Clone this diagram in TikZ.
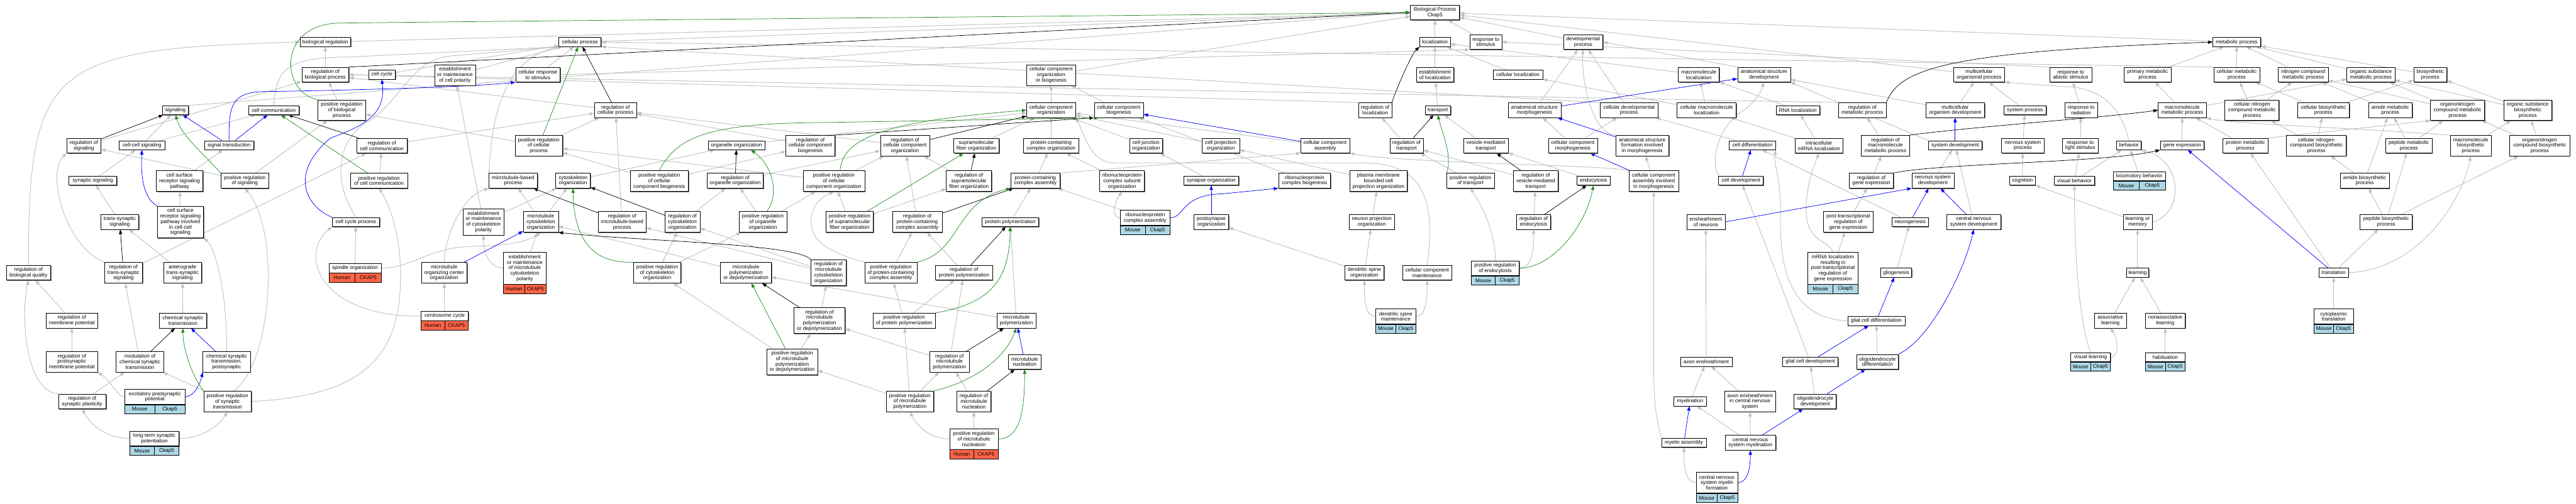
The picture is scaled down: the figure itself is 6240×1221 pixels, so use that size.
\documentclass[tikz,border=0pt]{standalone}
\usepackage{fontspec}
\setmainfont{Liberation Sans}
\usetikzlibrary{arrows.meta,shadows}
\definecolor{isagray}{HTML}{C0C0C0}
\definecolor{posgreen}{HTML}{228B22}
\definecolor{partblue}{HTML}{0000FF}
\definecolor{mouseblue}{HTML}{ADD8E6}
\definecolor{humanred}{HTML}{FF6347}
\newcommand{\termfont}{\fontsize{12.5}{13.3}\selectfont}
\pgfdeclarelayer{edges}
\pgfsetlayers{edges,main}
% species / gene strip under an annotated term
\newcommand{\genebar}[5]{%
  \node[gcell,fill=#5,minimum width=#2/2,anchor=north west] (#1sp) at (#1.south west) {#3};
  \node[gcell,fill=#5,minimum width=#2/2,anchor=north east] (#1gn) at (#1.south east) {#4};}

\begin{document}
\begin{tikzpicture}[x=1pt,y=1pt,
  term/.style={draw=black,line width=0.9pt,fill=white,align=center,inner xsep=3pt,inner ysep=1pt,
    font=\termfont,drop shadow={shadow xshift=1.8pt,shadow yshift=-1.8pt,fill=black!55,opacity=1}},
  l1/.style={term,minimum height=22},
  l2/.style={term,minimum height=36},
  l3/.style={term,minimum height=50},
  l4/.style={term,minimum height=63},
  l5/.style={term,minimum height=77},
  gcell/.style={draw=black,line width=0.9pt,inner sep=1pt,font=\termfont,minimum height=22},
  edge/.style={-{Triangle[length=11pt,width=8pt]},line width=1.1pt},
  isaedge/.style={edge,isagray,line width=1.4pt},
  partedge/.style={edge,partblue},
  regedge/.style={edge,black},
  posedge/.style={edge,posgreen}]

\useasboundingbox (0,0) rectangle (6240,-1221);

% root
\node[l2,minimum width=119] (biop) at (3476,-30) {Biological Process\\Ckap5};

% level 1
\node[l1,minimum width=123] (bioreg) at (788,-102) {biological regulation};
\node[l1,minimum width=102] (cellproc) at (1405,-102) {cellular process};
\node[l1,minimum width=74] (loc) at (3476,-102) {localization};
\node[l2,minimum width=78] (respstim) at (3599,-102) {response to\\stimulus};
\node[l2,minimum width=95] (devproc) at (3835,-102) {developmental\\process};
\node[l1,minimum width=116] (metab) at (5418,-102) {metabolic process};

% level 2
\node[l2,minimum width=114] (regbp) at (788,-181) {regulation of\\biological process};
\node[l1,minimum width=65] (cellcyc) at (925,-181) {cell cycle};
\node[l3,minimum width=99] (emcellpol) at (1102,-182) {establishment\\or maintenance\\of cell polarity};
\node[l2,minimum width=108] (cellresp) at (1303,-181) {cellular response\\to stimulus};
\node[l3,minimum width=118] (ccob) at (2546,-182) {cellular component\\organization\\or biogenesis};
\node[l2,minimum width=91] (estloc) at (3476,-181) {establishment\\of localization};
\node[l1,minimum width=120] (cellloc) at (3677,-181) {cellular localization};
\node[l2,minimum width=99] (macroloc) at (4115,-181) {macromolecule\\localization};
\node[l2,minimum width=128] (asdev) at (4273,-181) {anatomical structure\\development};
\node[l2,minimum width=123] (mcop) at (4794,-181) {multicellular\\organismal process};
\node[l2,minimum width=102] (respabio) at (5016,-181) {response to\\abiotic stimulus};
\node[l2,minimum width=114] (primmet) at (5202,-181) {primary metabolic\\process};
\node[l2,minimum width=111] (cellmet) at (5418,-181) {cellular metabolic\\process};
\node[l2,minimum width=121] (nitmet) at (5579,-181) {nitrogen compound\\metabolic process};
\node[l2,minimum width=116] (orgmet) at (5743,-181) {organic substance\\metabolic process};
\node[l2,minimum width=80] (biosyn) at (5887,-181) {biosynthetic\\process};

% level 3
\node[l1,minimum width=62] (signaling) at (425,-267) {signaling};
\node[l1,minimum width=123] (cellcomm) at (663,-267) {cell communication};
\node[l3,minimum width=115] (prbp) at (828,-267) {positive regulation\\of biological\\process};
\node[l2,minimum width=102] (regcp) at (1491,-267) {regulation of\\cellular process};
\node[l2,minimum width=118] (cco) at (2546,-267) {cellular component\\organization};
\node[l2,minimum width=119] (ccbio) at (2710,-267) {cellular component\\biogenesis};
\node[l2,minimum width=81] (regloc) at (3331,-267) {regulation of\\localization};
\node[l1,minimum width=61] (transport) at (3483,-267) {transport};
\node[l2,minimum width=128] (asmorph) at (3717,-267) {anatomical structure\\morphogenesis};
\node[l2,minimum width=139] (celldevproc) at (3946,-267) {cellular developmental\\process};
\node[l2,minimum width=143] (cmacroloc) at (4134,-267) {cellular macromolecule\\localization};
\node[l1,minimum width=106] (rnaloc) at (4355,-267) {RNA localization};
\node[l2,minimum width=116] (regmet) at (4511,-267) {regulation of\\metabolic process};
\node[l2,minimum width=142] (mcod) at (4736,-267) {multicellular\\organism development};
\node[l1,minimum width=103] (sysproc) at (4905,-267) {system process};
\node[l2,minimum width=79] (resprad) at (5041,-267) {response to\\radiation};
\node[l2,minimum width=116] (macromet) at (5286,-267) {macromolecule\\metabolic process};
\node[l3,minimum width=131] (cnmet) at (5455,-267) {cellular nitrogen\\compound metabolic\\process};
\node[l2,minimum width=126] (cbiosyn) at (5628,-267) {cellular biosynthetic\\process};
\node[l2,minimum width=106] (amidemet) at (5790,-267) {amide metabolic\\process};
\node[l3,minimum width=131] (onmet) at (5953,-267) {organonitrogen\\compound metabolic\\process};
\node[l3,minimum width=116] (osbiosyn) at (6123,-267) {organic substance\\biosynthetic\\process};

% level 4
\node[l2,minimum width=82] (regsig) at (203,-353) {regulation of\\signaling};
\node[l1,minimum width=110] (ccsig) at (344,-352) {cell-cell signaling};
\node[l1,minimum width=119] (sigtrans) at (555,-352) {signal transduction};
\node[l2,minimum width=123] (regcc) at (925,-353) {regulation of\\cell communication};
\node[l3,minimum width=115] (prcp) at (1305,-353) {positive regulation\\of cellular\\process};
\node[l1,minimum width=137] (orgorg) at (1784,-352) {organelle organization};
\node[l3,minimum width=119] (regccb) at (1963,-353) {regulation of\\cellular component\\biogenesis};
\node[l3,minimum width=119] (regcco) at (2192,-353) {regulation of\\cellular component\\organization};
\node[l2,minimum width=110] (sfo) at (2365,-353) {supramolecular\\fiber organization};
\node[l2,minimum width=133] (pcco) at (2546,-353) {protein-containing\\complex organization};
\node[l2,minimum width=80] (cjo) at (2776,-353) {cell junction\\organization};
\node[l2,minimum width=91] (cpo) at (2957,-353) {cell projection\\organization};
\node[l2,minimum width=118] (ccassem) at (3210,-353) {cellular component\\assembly};
\node[l2,minimum width=81] (regtrans) at (3407,-353) {regulation of\\transport};
\node[l2,minimum width=108] (vmt) at (3599,-353) {vesicle-mediated\\transport};
\node[l2,minimum width=119] (ccmorph) at (3810,-353) {cellular component\\morphogenesis};
\node[l3,minimum width=129] (asfim) at (3978,-353) {anatomical structure\\formation involved\\in morphogenesis};
\node[l1,minimum width=112] (celldiff) at (4245,-352) {cell differentiation};
\node[l2,minimum width=116] (imrnaloc) at (4406,-353) {intracellular\\mRNA localization};
\node[l3,minimum width=116] (regmmp) at (4567,-353) {regulation of\\macromolecule\\metabolic process};
\node[l1,minimum width=130] (sysdev) at (4736,-352) {system development};
\node[l2,minimum width=103] (nsproc) at (4900,-353) {nervous system\\process};
\node[l2,minimum width=87] (resplight) at (5039,-353) {response to\\light stimulus};
\node[l1,minimum width=59] (behavior) at (5157,-352) {behavior};
\node[l1,minimum width=106] (geneexp) at (5286,-352) {gene expression};
\node[l2,minimum width=109] (protmet) at (5439,-353) {protein metabolic\\process};
\node[l3,minimum width=145] (cnbiosyn) at (5611,-353) {cellular nitrogen\\compound biosynthetic\\process};
\node[l2,minimum width=113] (pepmet) at (5835,-353) {peptide metabolic\\process};
\node[l3,minimum width=99] (mbiosyn) at (5985,-353) {macromolecule\\biosynthetic\\process};
\node[l3,minimum width=145] (onbiosyn) at (6152,-353) {organonitrogen\\compound biosynthetic\\process};

% level 5
\node[l1,minimum width=116] (synsig) at (225,-438) {synaptic signaling};
\node[l3,minimum width=113] (csrsp) at (435,-439) {cell surface\\receptor signaling\\pathway};
\node[l2,minimum width=115] (prsig) at (593,-438) {positive regulation\\of signaling};
\node[l2,minimum width=138] (prcc) at (918,-438) {positive regulation\\of cell communication};
\node[l2,minimum width=117] (mtbp) at (1243,-438) {microtubule-based\\process};
\node[l2,minimum width=84] (cytorg) at (1388,-438) {cytoskeleton\\organization};
\node[l3,minimum width=141] (prccb) at (1597,-439) {positive regulation\\of cellular\\component biogenesis};
\node[l2,minimum width=136] (regoo) at (1781,-438) {regulation of\\organelle organization};
\node[l3,minimum width=149] (prcco) at (2020,-439) {positive regulation\\of cellular\\component organization};
\node[l3,minimum width=110] (regsfo) at (2347,-439) {regulation of\\supramolecular\\fiber organization};
\node[l2,minimum width=119] (pcca) at (2508,-438) {protein-containing\\complex assembly};
\node[l3,minimum width=108] (rnpso) at (2718,-439) {ribonucleoprotein\\complex subunit\\organization};
\node[l1,minimum width=133] (synorg) at (2934,-438) {synapse organization};
\node[l2,minimum width=126] (rnpbio) at (3160,-438) {ribonucleoprotein\\complex biogenesis};
\node[l3,minimum width=140] (pmbcpo) at (3339,-439) {plasma membrane\\bounded cell\\projection organization};
\node[l2,minimum width=115] (prtrans) at (3562,-438) {positive regulation\\of transport};
\node[l3,minimum width=109] (regvmt) at (3720,-439) {regulation of\\vesicle-mediated\\transport};
\node[l1,minimum width=80] (endo) at (3860,-438) {endocytosis};
\node[l3,minimum width=120] (ccaim) at (4006,-439) {cellular component\\assembly involved\\in morphogenesis};
\node[l1,minimum width=108] (celldev) at (4217,-438) {cell development};
\node[l2,minimum width=106] (reggeneexp) at (4533,-438) {regulation of\\gene expression};
\node[l2,minimum width=102] (nsdev) at (4682,-438) {nervous system\\development};
\node[l1,minimum width=62] (cognition) at (4899,-438) {cognition};
\node[l1,minimum width=97] (visbeh) at (5025,-438) {visual behavior};
\node[l1,minimum width=126] (locobeh) at (5182,-427) {locomotory behavior};
\node[l2,minimum width=119] (amidebio) at (5728,-438) {amide biosynthetic\\process};

% level 6
\node[l2,minimum width=92] (tssig) at (290,-538) {trans-synaptic\\signaling};
\node[l5,minimum width=112] (csrspcc) at (437,-538) {cell surface\\receptor signaling\\pathway involved\\in cell-cell\\signaling};
\node[l1,minimum width=115] (ccproc) at (862,-538) {cell cycle process};
\node[l4,minimum width=99] (emcytpol) at (1171,-538) {establishment\\or maintenance\\of cytoskeleton\\polarity};
\node[l3,minimum width=85] (mtco) at (1310,-538) {microtubule\\cytoskeleton\\organization};
\node[l3,minimum width=116] (regmtbp) at (1507,-538) {regulation of\\microtubule-based\\process};
\node[l3,minimum width=85] (regco) at (1653,-538) {regulation of\\cytoskeleton\\organization};
\node[l3,minimum width=115] (proo) at (1848,-538) {positive regulation\\of organelle\\organization};
\node[l3,minimum width=115] (prsfo) at (2058,-538) {positive regulation\\of supramolecular\\fiber organization};
\node[l3,minimum width=120] (regpcca) at (2222,-538) {regulation of\\protein-containing\\complex assembly};
\node[l1,minimum width=138] (protpoly) at (2447,-538) {protein polymerization};
\node[l2,minimum width=120] (rnpca) at (2774,-528) {ribonucleoprotein\\complex assembly};
\node[l2,minimum width=84] (postsyn) at (2934,-538) {postsynapse\\organization};
\node[l2,minimum width=109] (npo) at (3323,-538) {neuron projection\\organization};
\node[l2,minimum width=82] (regendo) at (3715,-538) {regulation of\\endocytosis};
\node[l2,minimum width=93] (ensheath) at (4132,-538) {ensheathment\\of neurons};
\node[l3,minimum width=120] (ptrge) at (4477,-538) {post-transcriptional\\regulation of\\gene expression};
\node[l1,minimum width=87] (neurogen) at (4627,-538) {neurogenesis};
\node[l2,minimum width=131] (cnsdev) at (4781,-538) {central nervous\\system development};
\node[l2,minimum width=70] (learnmem) at (5178,-538) {learning or\\memory};
\node[l2,minimum width=127] (pepbio) at (5780,-538) {peptide biosynthetic\\process};

% level 7
\node[l2,minimum width=107] (regbq) at (69,-661) {regulation of\\biological quality};
\node[l3,minimum width=92] (regtss) at (299,-661) {regulation of\\trans-synaptic\\signaling};
\node[l3,minimum width=92] (antero) at (442,-661) {anterograde\\trans-synaptic\\signaling};
\node[l1,minimum width=127] (spindle) at (860,-650) {spindle organization};
\node[l3,minimum width=110] (mtoc) at (1076,-661) {microtubule\\organizing center\\organization};
\node[l5,minimum width=103] (emmtpol) at (1271,-650) {establishment\\or maintenance\\of microtubule\\cytoskeleton\\polarity};
\node[l3,minimum width=115] (prco) at (1592,-661) {positive regulation\\of cytoskeleton\\organization};
\node[l3,minimum width=123] (mtpd) at (1807,-661) {microtubule\\polymerization\\or depolymerization};
\node[l4,minimum width=85] (regmtco) at (2007,-661) {regulation of\\microtubule\\cytoskeleton\\organization};
\node[l3,minimum width=127] (prpcca) at (2158,-661) {positive regulation\\of protein-containing\\complex assembly};
\node[l2,minimum width=138] (regpp) at (2335,-661) {regulation of\\protein polymerization};
\node[l2,minimum width=95] (dso) at (3305,-661) {dendritic spine\\organization};
\node[l2,minimum width=119] (ccmaint) at (3457,-661) {cellular component\\maintenance};
\node[l2,minimum width=116] (prendo) at (3622,-650) {positive regulation\\of endocytosis};
\node[l5,minimum width=121] (mrnaloc) at (4440,-650) {mRNA localization\\resulting in\\post-transcriptional\\regulation of\\gene expression};
\node[l1,minimum width=75] (gliogen) at (4593,-661) {gliogenesis};
\node[l1,minimum width=54] (learning) at (5178,-661) {learning};
\node[l1,minimum width=71] (translation) at (5653,-661) {translation};

% level 8
\node[l2,minimum width=125] (regmp) at (174,-777) {regulation of\\membrane potential};
\node[l2,minimum width=115] (cst) at (443,-777) {chemical synaptic\\transmission};
\node[l1,minimum width=114] (ccycle) at (1077,-766) {centrosome cycle};
\node[l4,minimum width=124] (regmtpd) at (1985,-777) {regulation of\\microtubule\\polymerization\\or depolymerization};
\node[l2,minimum width=151] (prpp) at (2190,-777) {positive regulation\\of protein polymerization};
\node[l2,minimum width=95] (mtpoly) at (2462,-777) {microtubule\\polymerization};
\node[l2,minimum width=97] (dsm) at (3381,-767) {dendritic spine\\maintenance};
\node[l1,minimum width=139] (glcdiff) at (4545,-778) {glial cell differentiation};
\node[l2,minimum width=77] (asslearn) at (5112,-777) {associative\\learning};
\node[l2,minimum width=97] (nonasslearn) at (5245,-777) {nonassociative\\learning};
\node[l2,minimum width=95] (cyttrans) at (5653,-767) {cytoplasmic\\translation};

% level 9
\node[l3,minimum width=125] (regpmp) at (174,-877) {regulation of\\postsynaptic\\membrane potential};
\node[l3,minimum width=115] (modcst) at (339,-877) {modulation of\\chemical synaptic\\transmission};
\node[l3,minimum width=115] (cstpost) at (549,-877) {chemical synaptic\\transmission,\\postsynaptic};
\node[l4,minimum width=123] (prmtpd) at (1919,-877) {positive regulation\\of microtubule\\polymerization\\or depolymerization};
\node[l3,minimum width=95] (regmtp) at (2300,-877) {regulation of\\microtubule\\polymerization};
\node[l2,minimum width=78] (mtnuc) at (2482,-877) {microtubule\\nucleation};
\node[l1,minimum width=125] (axonens) at (4133,-877) {axon ensheathment};
\node[l1,minimum width=135] (glcdev) at (4385,-877) {glial cell development};
\node[l2,minimum width=101] (oligodiff) at (4548,-877) {oligodendrocyte\\differentiation};
\node[l1,minimum width=96] (vislearn) at (5064,-866) {visual learning};
\node[l1,minimum width=95] (habit) at (5245,-866) {habituation};

% level 10
\node[l2,minimum width=115] (regsp) at (199,-973) {regulation of\\synaptic plasticity};
\node[l2,minimum width=146] (epsp) at (375,-962) {excitatory postsynaptic\\potential};
\node[l3,minimum width=115] (prst) at (551,-973) {positive regulation\\of synaptic\\transmission};
\node[l3,minimum width=115] (prmtp) at (2204,-973) {positive regulation\\of microtubule\\polymerization};
\node[l3,minimum width=82] (regmtn) at (2359,-973) {regulation of\\microtubule\\nucleation};
\node[l1,minimum width=78] (myelination) at (4094,-973) {myelination};
\node[l3,minimum width=124] (aecns) at (4239,-973) {axon ensheathment\\in central nervous\\system};
\node[l2,minimum width=102] (oligodev) at (4397,-973) {oligodendrocyte\\development};

% level 11 and 12
\node[l2,minimum width=119] (ltp) at (374,-1063) {long-term synaptic\\potentiation};
\node[l3,minimum width=117] (prmtn) at (2359,-1064) {positive regulation\\of microtubule\\nucleation};
\node[l1,minimum width=108] (myelasm) at (4079,-1073) {myelin assembly};
\node[l2,minimum width=123] (cnsmyel) at (4240,-1073) {central nervous\\system myelination};
\node[l3,minimum width=100] (cnsmf) at (4159,-1170) {central nervous\\system myelin\\formation};

% species and gene strips
\genebar{spindle}{127}{Human}{CKAP5}{humanred}
\genebar{ccycle}{114}{Human}{CKAP5}{humanred}
\genebar{emmtpol}{103}{Human}{CKAP5}{humanred}
\genebar{prmtn}{117}{Human}{CKAP5}{humanred}
\genebar{epsp}{146}{Mouse}{Ckap5}{mouseblue}
\genebar{ltp}{119}{Mouse}{Ckap5}{mouseblue}
\genebar{rnpca}{120}{Mouse}{Ckap5}{mouseblue}
\genebar{prendo}{116}{Mouse}{Ckap5}{mouseblue}
\genebar{dsm}{97}{Mouse}{Ckap5}{mouseblue}
\genebar{cnsmf}{100}{Mouse}{Ckap5}{mouseblue}
\genebar{mrnaloc}{121}{Mouse}{Ckap5}{mouseblue}
\genebar{locobeh}{126}{Mouse}{Ckap5}{mouseblue}
\genebar{vislearn}{96}{Mouse}{Ckap5}{mouseblue}
\genebar{habit}{95}{Mouse}{Ckap5}{mouseblue}
\genebar{cyttrans}{95}{Mouse}{Ckap5}{mouseblue}

\begin{pgfonlayer}{edges}
% is_a
\draw[isaedge] (bioreg) -- (biop);
\draw[isaedge] (cellproc) -- (biop);
\draw[isaedge] (signaling.north east) -- (biop.west);
\draw[isaedge] (ccob) -- (biop);
\draw[isaedge] (loc) -- (biop);
\draw[isaedge] (respstim) -- (biop);
\draw[isaedge] (devproc) -- (biop);
\draw[isaedge] (mcop) -- (biop);
\draw[isaedge] (metab) -- (biop);
\draw[isaedge] (regbp) -- (bioreg);
\draw[isaedge] (regbq.north) .. controls (69,-160) and (120,-118) .. (bioreg.west);
\draw[isaedge] (regsig) -- (regbp);
\draw[isaedge] (prbp) -- (regbp);
\draw[isaedge] (cellcyc) -- (cellproc);
\draw[isaedge] (emcellpol) -- (cellproc);
\draw[isaedge] (cellresp) -- (cellproc);
\draw[isaedge] (cellresp.east) -- (respstim.south west);
\draw[isaedge] (regcp) -- (regbp);
\draw[isaedge] (prcp) -- (regcp);
\draw[isaedge] (prcp) -- (prbp);
\draw[isaedge] (mtbp.north west) .. controls (1190,-330) and (1200,-150) .. (cellproc.south west);
\draw[isaedge] (cellcomm.north) .. controls (670,-160) and (700,-140) .. (850,-138) -- (cellproc.south west);
\draw[isaedge] (ccsig) -- (signaling);
\draw[isaedge] (ccsig) -- (cellcomm);
\draw[isaedge] (synsig) -- (ccsig);
\draw[isaedge] (csrsp) -- (sigtrans);
\draw[isaedge] (csrspcc) -- (csrsp);
\draw[isaedge] (tssig) -- (synsig);
\draw[isaedge] (regtss.north west) .. controls (160,-600) and (110,-420) .. (regsig.south west);
\draw[isaedge] (regtss) -- (regcc);
\draw[isaedge] (antero) -- (tssig);
\draw[isaedge] (cst) -- (antero);
\draw[isaedge] (modcst) -- (regtss);
\draw[isaedge] (cstpost.north) .. controls (550,-700) and (520,-600) .. (csrspcc.south east);
\draw[isaedge] (prst) -- (modcst);
\draw[isaedge] (prst.60) .. controls (660,-880) and (680,-560) .. (prsig.south);
\draw[isaedge] (prst.east) .. controls (900,-960) and (975,-850) .. (970,-650) .. controls (968,-560) and (940,-490) .. (prcc.south);
\draw[isaedge] (epsp.west) .. controls (285,-962) and (270,-925) .. (regpmp.south east);
\draw[isaedge] (regpmp) -- (regmp);
\draw[isaedge] (regmp) -- (regbq);
\draw[isaedge] (regsp.north west) .. controls (60,-950) and (50,-760) .. (regbq.south);
\draw[isaedge] (regsp) -- (modcst);
\draw[isaedge] (ltp.west) .. controls (270,-1063) and (225,-1040) .. (regsp.south);
\draw[isaedge] (ltp.east) .. controls (480,-1063) and (525,-1040) .. (prst.south);
\draw[isaedge] (prsig) -- (regsig);
\draw[isaedge] (prsig) -- (prbp);
\draw[isaedge] (prcc) -- (regcc);
\draw[isaedge] (regcc) -- (regcp);
\draw[isaedge] (ccproc.north) .. controls (800,-430) and (820,-330) .. (900,-290) .. controls (980,-230) and (1000,-140) .. (1100,-135) -- (cellproc.south west);
\draw[isaedge] (spindle) -- (ccproc);
\draw[isaedge] (spindle.east) .. controls (1000,-650) and (1040,-598) .. (1150,-597) .. controls (1230,-596) and (1280,-585) .. (mtco.south);
\draw[isaedge] (ccycle.west) .. controls (780,-770) and (720,-620) .. (ccproc.south west);
\draw[isaedge] (ccycle) -- (mtoc);
\draw[isaedge] (mtoc.north) .. controls (1076,-590) and (1110,-480) .. (mtbp.south west);
\draw[isaedge] (cytorg) -- (orgorg);
\draw[isaedge] (emcytpol) -- (emcellpol);
\draw[isaedge] (emcytpol) -- (cytorg);
\draw[isaedge] (mtco) -- (mtbp);
\draw[isaedge] (mtco) -- (cytorg);
\draw[isaedge] (emmtpol) -- (mtco);
\draw[isaedge] (emmtpol.west) .. controls (1190,-650) and (1171,-620) .. (emcytpol.south);
\draw[isaedge] (regmtbp) -- (regcp);
\draw[isaedge] (regco) -- (regoo);
\draw[isaedge] (prco) -- (regco);
\draw[isaedge] (prco) -- (proo);
\draw[isaedge] (regmtco) -- (regco);
\draw[isaedge] (regmtco) -- (regmtbp);
\draw[isaedge] (mtpd) -- (mtco);
\draw[isaedge] (regmtpd) -- (regmtco);
\draw[isaedge] (prmtpd) -- (regmtpd);
\draw[isaedge] (prmtpd) -- (prco);
\draw[isaedge] (orgorg) -- (cco);
\draw[isaedge] (regoo) -- (regcco);
\draw[isaedge] (proo) -- (regoo);
\draw[isaedge] (proo) -- (prcco);
\draw[isaedge] (regccb) -- (regcp);
\draw[isaedge] (prccb) -- (regccb);
\draw[isaedge] (prccb) -- (prcp);
\draw[isaedge] (regcco) -- (regcp);
\draw[isaedge] (prcco) -- (regcco);
\draw[isaedge] (prcco) -- (prcp);
\draw[isaedge] (prsfo) -- (prcco);
\draw[isaedge] (prsfo) -- (regsfo);
\draw[isaedge] (regsfo) -- (regcco);
\draw[isaedge] (sfo) -- (cco);
\draw[isaedge] (cco) -- (ccob);
\draw[isaedge] (ccbio) -- (ccob);
\draw[isaedge] (pcco) -- (cco);
\draw[isaedge] (pcca) -- (pcco);
\draw[isaedge] (pcca.north east) -- (ccassem.south west);
\draw[isaedge] (regpcca) -- (regcco);
\draw[isaedge] (prpcca) -- (regpcca);
\draw[isaedge] (prpcca.north west) .. controls (2000,-610) and (1960,-580) .. (1965,-530) .. controls (1968,-500) and (1985,-480) .. (prcco.south);
\draw[isaedge] (protpoly) -- (pcca);
\draw[isaedge] (regpp) -- (regpcca);
\draw[isaedge] (prpp) -- (regpp);
\draw[isaedge] (prpp) -- (prpcca);
\draw[isaedge] (mtpoly) -- (protpoly);
\draw[isaedge] (mtpoly) -- (mtpd);
\draw[isaedge] (regmtp) -- (regpp);
\draw[isaedge] (regmtp) -- (regmtpd);
\draw[isaedge] (prmtp) -- (regmtp);
\draw[isaedge] (prmtp) -- (prpp);
\draw[isaedge] (prmtp) -- (prmtpd);
\draw[isaedge] (regmtn) -- (regmtp);
\draw[isaedge] (prmtn) -- (regmtn);
\draw[isaedge] (prmtn.west) .. controls (2260,-1064) and (2225,-1040) .. (prmtp.south);
\draw[isaedge] (ccassem) -- (cco);
\draw[isaedge] (cjo) -- (cco);
\draw[isaedge] (cpo) -- (cco);
\draw[isaedge] (rnpso) -- (pcco);
\draw[isaedge] (rnpca.west) .. controls (2690,-528) and (2700,-490) .. (rnpso.south);
\draw[isaedge] (rnpca) -- (pcca);
\draw[isaedge] (rnpbio) -- (ccbio);
\draw[isaedge] (synorg) -- (cjo);
\draw[isaedge] (pmbcpo) -- (cpo);
\draw[isaedge] (npo) -- (pmbcpo);
\draw[isaedge] (dso) -- (npo);
\draw[isaedge] (dso) -- (postsyn);
\draw[isaedge] (dsm.west) .. controls (3310,-767) and (3305,-740) .. (dso.south);
\draw[isaedge] (dsm.east) .. controls (3450,-767) and (3457,-740) .. (ccmaint.south);
\draw[isaedge] (ccmaint.north) .. controls (3480,-470) and (3440,-395) .. (3300,-395) -- (2700,-395) .. controls (2640,-395) and (2625,-320) .. (cco.south east);
\draw[isaedge] (estloc) -- (loc);
\draw[isaedge] (transport) -- (estloc);
\draw[isaedge] (cellloc) -- (loc);
\draw[isaedge] (macroloc) -- (loc);
\draw[isaedge] (cmacroloc) -- (macroloc);
\draw[isaedge] (cmacroloc) -- (cellloc);
\draw[isaedge] (rnaloc) -- (macroloc);
\draw[isaedge] (imrnaloc) -- (rnaloc);
\draw[isaedge] (imrnaloc) -- (cmacroloc);
\draw[isaedge] (mrnaloc.north) .. controls (4430,-580) and (4372,-590) .. (4375,-500) .. controls (4378,-440) and (4395,-400) .. (imrnaloc.south);
\draw[isaedge] (mrnaloc) -- (ptrge);
\draw[isaedge] (regloc.north west) -- (regbp.east);
\draw[isaedge] (regtrans) -- (regloc);
\draw[isaedge] (prtrans) -- (regtrans);
\draw[isaedge] (vmt) -- (transport);
\draw[isaedge] (regvmt) -- (regtrans);
\draw[isaedge] (endo) -- (vmt);
\draw[isaedge] (regendo) -- (regvmt);
\draw[isaedge] (prendo.east) .. controls (3712,-650) and (3716,-600) .. (regendo.south);
\draw[isaedge] (prendo.north) .. controls (3622,-560) and (3590,-500) .. (prtrans.south);
\draw[isaedge] (asmorph) -- (devproc);
\draw[isaedge] (celldevproc) -- (devproc);
\draw[isaedge] (celldevproc.north west) -- (cellproc.south east);
\draw[isaedge] (ccmorph) -- (asmorph);
\draw[isaedge] (ccmorph) -- (celldevproc);
\draw[isaedge] (asfim.north west) .. controls (3850,-320) and (3830,-180) .. (devproc.south);
\draw[isaedge] (ccaim) -- (asfim);
\draw[isaedge] (ccaim.north west) .. controls (3900,-400) and (3400,-396) .. (ccassem.south east);
\draw[isaedge] (myelasm.north west) .. controls (4010,-1010) and (4006,-960) .. (4006,-900) -- (ccaim.south);
\draw[isaedge] (cnsmf.west) .. controls (4090,-1170) and (4079,-1150) .. (myelasm.south);
\draw[isaedge] (myelination) -- (axonens);
\draw[isaedge] (cnsmyel) -- (myelination);
\draw[isaedge] (cnsmyel) -- (aecns);
\draw[isaedge] (aecns) -- (axonens);
\draw[isaedge] (axonens) -- (ensheath);
\draw[isaedge] (celldiff) -- (celldevproc);
\draw[isaedge] (celldev.north west) .. controls (4140,-380) and (4170,-300) .. (4220,-270) .. controls (4250,-250) and (4265,-225) .. (asdev.south);
\draw[isaedge] (glcdev) -- (celldev);
\draw[isaedge] (glcdiff.west) .. controls (4330,-770) and (4310,-640) .. (4313,-520) .. controls (4315,-430) and (4295,-400) .. (celldiff.south east);
\draw[isaedge] (gliogen) -- (neurogen);
\draw[isaedge] (neurogen) -- (celldiff);
\draw[isaedge] (oligodiff) -- (glcdiff);
\draw[isaedge] (oligodev) -- (glcdev);
\draw[isaedge] (nsdev) -- (sysdev);
\draw[isaedge] (cnsdev) -- (sysdev);
\draw[isaedge] (sysdev.north west) -- (asdev.south east);
\draw[isaedge] (mcod) -- (mcop);
\draw[isaedge] (mcod) -- (asdev);
\draw[isaedge] (asdev.north west) -- (devproc.east);
\draw[isaedge] (sysproc) -- (mcop);
\draw[isaedge] (nsproc) -- (sysproc);
\draw[isaedge] (cognition) -- (nsproc);
\draw[isaedge] (behavior.north) .. controls (5140,-270) and (5100,-212) .. (5000,-210) -- (mcop.south east);
\draw[isaedge] (visbeh) -- (behavior);
\draw[isaedge] (visbeh) -- (resplight);
\draw[isaedge] (locobeh) -- (behavior);
\draw[isaedge] (learnmem) -- (cognition);
\draw[isaedge] (learnmem.east) .. controls (5290,-520) and (5290,-390) .. (behavior.south east);
\draw[isaedge] (learning) -- (learnmem);
\draw[isaedge] (asslearn) -- (learning);
\draw[isaedge] (nonasslearn) -- (learning);
\draw[isaedge] (vislearn.east) .. controls (5135,-866) and (5130,-820) .. (asslearn.south);
\draw[isaedge] (vislearn.north) .. controls (5040,-790) and (5025,-650) .. (visbeh.south);
\draw[isaedge] (habit) -- (nonasslearn);
\draw[isaedge] (respabio.north west) -- (respstim.east);
\draw[isaedge] (resprad) -- (respabio);
\draw[isaedge] (resplight) -- (resprad);
\draw[isaedge] (regmet.north west) -- (regbp.east);
\draw[isaedge] (regmmp) -- (regmet);
\draw[isaedge] (reggeneexp) -- (regmmp);
\draw[isaedge] (ptrge) -- (reggeneexp);
\draw[isaedge] (primmet) -- (metab);
\draw[isaedge] (cellmet) -- (metab);
\draw[isaedge] (cellmet.north west) -- (cellproc.east);
\draw[isaedge] (nitmet) -- (metab);
\draw[isaedge] (orgmet) -- (metab);
\draw[isaedge] (biosyn) -- (metab);
\draw[isaedge] (macromet) -- (primmet);
\draw[isaedge] (macromet) -- (orgmet);
\draw[isaedge] (cnmet) -- (cellmet);
\draw[isaedge] (cnmet) -- (nitmet);
\draw[isaedge] (cbiosyn) -- (cellmet);
\draw[isaedge] (cbiosyn) -- (biosyn);
\draw[isaedge] (geneexp) -- (macromet);
\draw[isaedge] (protmet) -- (macromet);
\draw[isaedge] (protmet.north east) -- (onmet.south west);
\draw[isaedge] (cnbiosyn) -- (cbiosyn);
\draw[isaedge] (cnbiosyn) -- (cnmet);
\draw[isaedge] (amidebio) -- (cnbiosyn);
\draw[isaedge] (amidebio) -- (amidemet);
\draw[isaedge] (amidemet) -- (nitmet);
\draw[isaedge] (onmet) -- (nitmet);
\draw[isaedge] (onmet) -- (orgmet);
\draw[isaedge] (osbiosyn) -- (biosyn);
\draw[isaedge] (osbiosyn) -- (orgmet);
\draw[isaedge] (pepmet) -- (amidemet);
\draw[isaedge] (pepmet) -- (onmet);
\draw[isaedge] (mbiosyn) -- (osbiosyn);
\draw[isaedge] (mbiosyn.north west) .. controls (5700,-310) and (5400,-300) .. (macromet.south east);
\draw[isaedge] (onbiosyn) -- (osbiosyn);
\draw[isaedge] (onbiosyn) -- (onmet);
\draw[isaedge] (pepbio) -- (amidebio);
\draw[isaedge] (pepbio) -- (pepmet);
\draw[isaedge] (pepbio) -- (onbiosyn);
\draw[isaedge] (translation) -- (protmet);
\draw[isaedge] (translation) -- (pepbio);
\draw[isaedge] (translation.east) .. controls (5850,-655) and (5960,-500) .. (mbiosyn.south);
\draw[isaedge] (cyttrans) -- (translation);

% part_of
\draw[partedge] (sigtrans) -- (signaling);
\draw[partedge] (sigtrans) -- (cellcomm);
\draw[partedge] (sigtrans.north) .. controls (553,-250) and (565,-224) .. (640,-222) .. controls (900,-218) and (1150,-210) .. (cellresp.south west);
\draw[partedge] (csrspcc.north west) .. controls (345,-480) and (341,-420) .. (ccsig.south);
\draw[partedge] (cstpost) -- (cst);
\draw[partedge] (epsp.east) .. controls (470,-962) and (485,-930) .. (cstpost.south west);
\draw[partedge] (ccproc.north west) .. controls (740,-500) and (700,-420) .. (800,-335) .. controls (880,-305) and (935,-280) .. (cellcyc.south);
\draw[partedge] (mtoc) -- (mtco);
\draw[partedge] (mtnuc) -- (mtpoly);
\draw[partedge] (ccassem) -- (ccbio);
\draw[partedge] (rnpca.east) .. controls (2870,-528) and (2860,-472) .. (2960,-470) -- (rnpbio.south west);
\draw[partedge] (postsyn) -- (synorg);
\draw[partedge] (asmorph) -- (asdev);
\draw[partedge] (asfim) -- (asmorph);
\draw[partedge] (ccaim) -- (ccmorph);
\draw[partedge] (myelasm) -- (myelination);
\draw[partedge] (cnsmf.east) .. controls (4235,-1170) and (4240,-1130) .. (cnsmyel.south);
\draw[partedge] (cnsmyel) -- (oligodev);
\draw[partedge] (ensheath.east) -- (nsdev.south west);
\draw[partedge] (celldev) -- (celldiff);
\draw[partedge] (glcdev) -- (glcdiff);
\draw[partedge] (glcdiff) -- (gliogen);
\draw[partedge] (neurogen) -- (nsdev);
\draw[partedge] (oligodev) -- (oligodiff);
\draw[partedge] (oligodiff.north east) .. controls (4680,-820) and (4760,-650) .. (cnsdev.south);
\draw[partedge] (cnsdev) -- (nsdev);
\draw[partedge] (sysdev) -- (mcod);
\draw[partedge] (translation) -- (geneexp);

% regulates
\draw[regedge] (regsig) -- (signaling);
\draw[regedge] (regbp.north east) -- (biop.west);
\draw[regedge] (regcc) -- (cellcomm);
\draw[regedge] (regtss) -- (tssig);
\draw[regedge] (modcst) -- (cst);
\draw[regedge] (regcp) -- (cellproc);
\draw[regedge] (regmtbp) -- (mtbp);
\draw[regedge] (regco) -- (cytorg);
\draw[regedge] (regmtco.north west) .. controls (1930,-590) and (1550,-585) .. (mtco.south east);
\draw[regedge] (regmtpd) -- (mtpd);
\draw[regedge] (regoo) -- (orgorg);
\draw[regedge] (regccb.north east) -- (ccbio.south west);
\draw[regedge] (regcco) -- (cco);
\draw[regedge] (regsfo) -- (sfo);
\draw[regedge] (regpcca) -- (pcca);
\draw[regedge] (regpp) -- (protpoly);
\draw[regedge] (regmtp) -- (mtpoly);
\draw[regedge] (regmtn) -- (mtnuc);
\draw[regedge] (regloc.north east) .. controls (3380,-220) and (3420,-130) .. (loc.south west);
\draw[regedge] (regtrans) -- (transport);
\draw[regedge] (regvmt) -- (vmt);
\draw[regedge] (regendo) -- (endo);
\draw[regedge] (regmet.north east) .. controls (4600,-170) and (4700,-125) .. (metab.west);
\draw[regedge] (regmmp.north east) .. controls (4800,-305) and (5100,-285) .. (macromet.west);
\draw[regedge] (reggeneexp.north east) .. controls (4700,-395) and (5100,-395) .. (geneexp.south west);

% positively regulates
\draw[posedge] (prbp.north west) .. controls (680,-225) and (670,-60) .. (820,-56) .. controls (1500,-48) and (3000,-36) .. (biop.west);
\draw[posedge] (prsig.north west) .. controls (500,-380) and (440,-330) .. (signaling.south);
\draw[posedge] (prcc) -- (cellcomm);
\draw[posedge] (prst.north west) .. controls (470,-920) and (443,-850) .. (cst.south);
\draw[posedge] (prcp) -- (cellproc);
\draw[posedge] (prco.north west) .. controls (1420,-640) and (1390,-560) .. (cytorg.south);
\draw[posedge] (prmtpd) -- (mtpd);
\draw[posedge] (proo.70) .. controls (1890,-470) and (1870,-400) .. ([xshift=35pt]orgorg.south);
\draw[posedge] (prccb.north) .. controls (1640,-330) and (1720,-298) .. (2000,-297) -- ([xshift=12pt]ccbio.south west);
\draw[posedge] ([xshift=15pt]prcco.north) .. controls (2040,-320) and (2200,-290) .. (cco.west);
\draw[posedge] (prsfo) -- (sfo);
\draw[posedge] (prpcca.north east) .. controls (2330,-610) and (2310,-490) .. (pcca.south west);
\draw[posedge] (prpp.north east) .. controls (2400,-735) and (2445,-680) .. (protpoly.south);
\draw[posedge] (prmtp.north east) .. controls (2340,-930) and (2430,-880) .. (mtpoly.south);
\draw[posedge] (prmtn.east) .. controls (2470,-1064) and (2482,-1000) .. (mtnuc.south);
\draw[posedge] (prtrans.north west) .. controls (3520,-380) and (3490,-310) .. (transport.south);
\draw[posedge] (prendo.east) .. controls (3760,-650) and (3840,-550) .. (endo.south);
\end{pgfonlayer}
\end{tikzpicture}
\end{document}
